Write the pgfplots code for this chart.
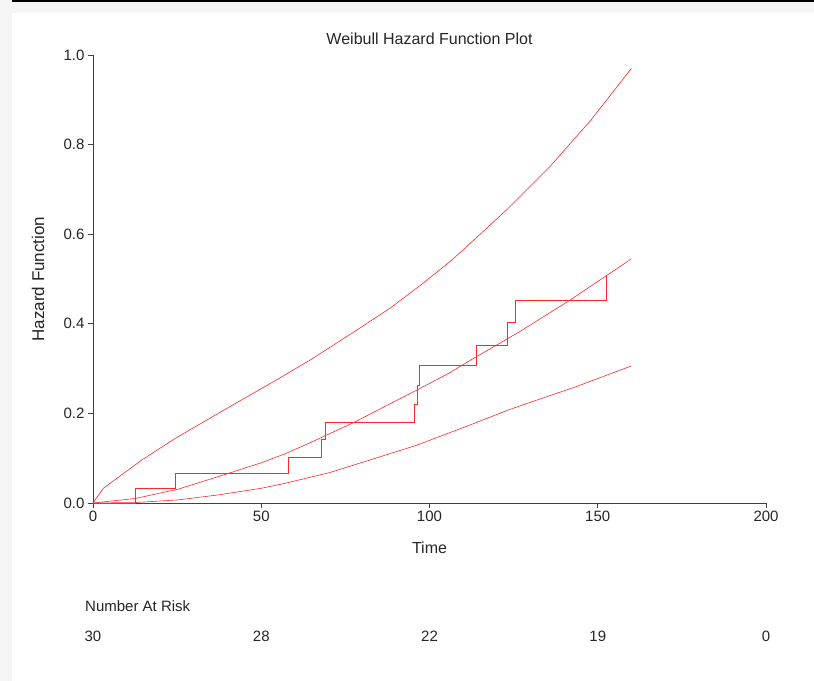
\documentclass[border=0pt]{standalone}
\usepackage{fontspec}
\setmainfont{Liberation Sans}
\usepackage{pgfplots}
\pgfplotsset{compat=1.18}
\definecolor{hz}{RGB}{255,40,40}
\definecolor{frame}{RGB}{245,245,245}

\begin{document}
\begin{tikzpicture}[x=1bp,y=1bp]
\useasboundingbox (-93,-178) rectangle (721,503);
% screenshot frame
\fill[frame] (-93,-178) rectangle (721,503);
\fill[white] (-81,-178) rectangle (721,490);
\fill[black] (-81,501) rectangle (721,503);

\begin{axis}[
  at={(0,0)}, anchor=south west,
  scale only axis, width=673bp, height=448bp,
  xmin=0, xmax=200, ymin=0, ymax=1,
  axis x line*=bottom, axis y line*=left,
  axis line style={black!75, line width=0.7pt},
  tick align=outside, major tick length=5bp,
  tick style={black!75, line width=0.7pt},
  xtick={0,50,100,150,200},
  ytick={0,0.2,0.4,0.6,0.8,1.0},
  yticklabel style={/pgf/number format/.cd, fixed, fixed zerofill, precision=1},
  /pgf/number format/assume math mode=true,
  ticklabel style={font=\fontsize{15bp}{18bp}\selectfont, text=black!85},
  clip=false,
]
% upper bound
\addplot[hz, line width=0.6pt] coordinates {
 (0,0) (3.1,0.033) (14.5,0.096) (24.4,0.144) (36.3,0.196) (43.2,0.226)
 (54.6,0.275) (64.5,0.319) (78.4,0.386) (88.3,0.435) (98,0.490) (106.1,0.539)
 (110,0.565) (123,0.655) (135.8,0.751) (148,0.855) (160,0.970)};
% Weibull estimate
\addplot[hz, line width=0.6pt] coordinates {
 (0,0) (12.5,0.010) (25.4,0.031) (40.2,0.066) (50.1,0.090) (57.1,0.110)
 (63.5,0.131) (77.3,0.179) (96.2,0.252) (106.1,0.291) (112,0.318)
 (126.9,0.383) (141.8,0.453) (160,0.545)};
% lower bound
\addplot[hz, line width=0.6pt] coordinates {
 (0,0) (12.5,0.001) (25.4,0.007) (37.2,0.018) (50.1,0.033) (57.1,0.044)
 (70.4,0.068) (82.3,0.096) (96.2,0.129) (112,0.174) (123.9,0.209)
 (143.7,0.260) (160,0.306)};
% nonparametric step
\addplot[hz, line width=0.7pt, const plot mark left] coordinates {
 (0,0) (12.5,0.033) (24.6,0.066) (58.0,0.103) (68.0,0.142) (69.0,0.180)
 (95.4,0.221) (96.4,0.263) (97.0,0.308) (114.0,0.353) (123.1,0.403)
 (125.5,0.453) (152.7,0.509)};
\end{axis}

\begin{scope}[font=\fontsize{15bp}{18bp}\selectfont, text=black!85]
\node at (336.5,464) {\fontsize{16bp}{19bp}\selectfont Weibull Hazard Function Plot};
\node[rotate=90] at (-55,224) {\fontsize{17bp}{20bp}\selectfont Hazard Function};
\node at (336.5,-45) {\fontsize{16bp}{19bp}\selectfont Time};
\node[anchor=west, inner sep=0pt] at (-8,-103) {Number At Risk};
\node at (0,-133) {30};
\node at (168.25,-133) {28};
\node at (336.5,-133) {22};
\node at (504.75,-133) {19};
\node at (673,-133) {0};
\end{scope}
\end{tikzpicture}
\end{document}
